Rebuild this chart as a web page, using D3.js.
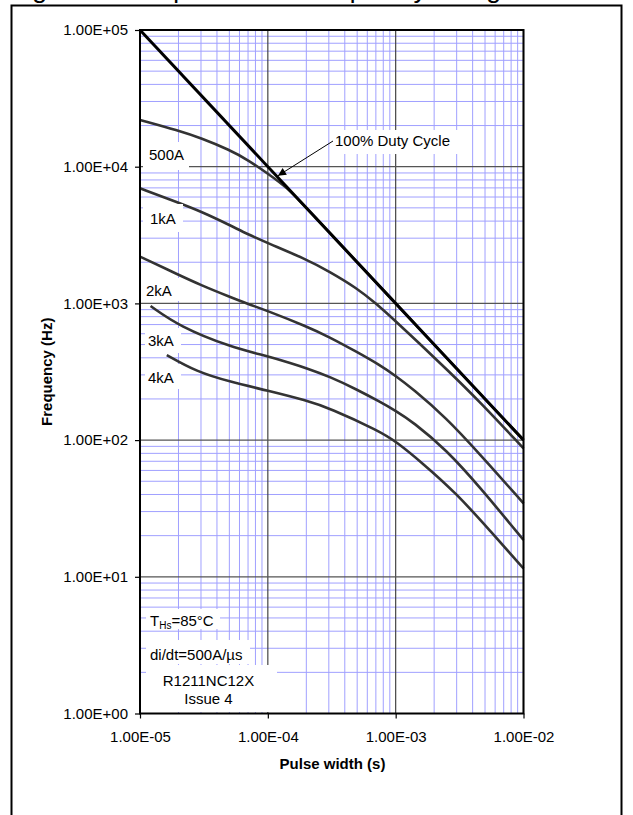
<!DOCTYPE html>
<html><head><meta charset="utf-8">
<script src="https://cdn.jsdelivr.net/npm/d3@7"></script>
<style>
body{margin:0;background:#fff;}
text{font-family:"Liberation Sans",Arial,sans-serif;fill:#000;}
</style>
</head><body>
<svg id="c" width="633" height="815"></svg>
<script>
// ---- data ----
const xTickValues = [1e-5, 1e-4, 1e-3, 1e-2];
const xTickLabels = ["1.00E-05", "1.00E-04", "1.00E-03", "1.00E-02"];
const yTickValues = [1, 10, 100, 1e3, 1e4, 1e5];
const yTickLabels = ["1.00E+00", "1.00E+01", "1.00E+02", "1.00E+03", "1.00E+04", "1.00E+05"];

const dutyT = [1e-5, 1e-2];
const dutyF = [1e5, 100];

const t500A = [1e-5, 2e-5, 3e-5, 5e-5, 7e-5, 1e-4, 1.43e-4, 2e-4, 1e-3, 1e-2];
const f500A = [22000, 18400, 16200, 13300, 11200, 8900, 6990, 5000, 1000, 100];

const t1kA = [1e-5, 2e-5, 3e-5, 5e-5, 7e-5, 1e-4, 2e-4, 3e-4, 5e-4, 7e-4, 1e-3, 1.5e-3, 2.5e-3, 4.5e-3, 1e-2];
const f1kA = [6950, 5450, 4700, 3750, 3200, 2760, 2100, 1720, 1290, 1000, 740, 520, 330, 193, 87];

const t2kA = [1e-5, 2e-5, 3e-5, 5e-5, 7e-5, 1e-4, 2e-4, 3e-4, 5e-4, 7.5e-4, 1e-3, 1.36e-3, 2.5e-3, 4.5e-3, 1e-2];
const f2kA = [2200, 1620, 1360, 1120, 990, 880, 680, 570, 440, 354, 295, 237, 145, 80, 34.5];

const t3kA = [1.21e-5, 2.05e-5, 5.05e-5, 1e-4, 1.5e-4, 2e-4, 3.05e-4, 5e-4, 7.5e-4, 1e-3, 1.36e-3, 2.49e-3, 4.53e-3, 1e-2];
const f3kA = [957, 676, 482, 410, 366, 336, 291, 234, 191, 164, 136, 85, 45.6, 18.6];

const t4kA = [1.62e-5, 2.77e-5, 5.05e-5, 1e-4, 2e-4, 3.05e-4, 7.5e-4, 1e-3, 1.63e-3, 2.98e-3, 5.42e-3, 1e-2];
const f4kA = [419, 316, 267, 230, 195, 171, 116, 98, 67.6, 40.8, 22, 11.5];

const seriesNames = ["500A", "1kA", "2kA", "3kA", "4kA"];
const seriesT = [t500A, t1kA, t2kA, t3kA, t4kA];
const seriesF = [f500A, f1kA, f2kA, f3kA, f4kA];

// ---- layout ----
const svg = d3.select("#c");
const L = 140, R = 523.5, T = 30, B = 713.5;
const x = d3.scaleLog().domain([1e-5, 1e-2]).range([L, R]);
const y = d3.scaleLog().domain([1, 1e5]).range([B, T]);

// title (cut off at top of the page)
svg.append("text").attr("x", 10).attr("y", -2).attr("font-size", 26.7)
  .text("Figure 16 - Square wave frequency ratings");

// outer frame
svg.append("rect").attr("x", 11.5).attr("y", 5.5).attr("width", 610).attr("height", 840)
  .attr("fill", "none").attr("stroke", "#000").attr("stroke-width", 2);

// grid
const minorX = [], minorY = [];
[1e-5, 1e-4, 1e-3].forEach(d => d3.range(2, 10).forEach(k => minorX.push(k * d)));
[1, 10, 100, 1e3, 1e4].forEach(d => d3.range(2, 10).forEach(k => minorY.push(k * d)));
const g = svg.append("g");
g.selectAll(".mx").data(minorX).join("line")
  .attr("x1", d => x(d)).attr("x2", d => x(d)).attr("y1", T).attr("y2", B)
  .attr("stroke", "#a0a0ff").attr("stroke-width", 1);
g.selectAll(".my").data(minorY).join("line")
  .attr("y1", d => y(d)).attr("y2", d => y(d)).attr("x1", L).attr("x2", R)
  .attr("stroke", "#a0a0ff").attr("stroke-width", 1);
g.selectAll(".Mx").data(xTickValues).join("line")
  .attr("x1", d => x(d)).attr("x2", d => x(d)).attr("y1", T).attr("y2", B)
  .attr("stroke", "#444").attr("stroke-width", 1.2);
g.selectAll(".My").data(yTickValues).join("line")
  .attr("y1", d => y(d)).attr("y2", d => y(d)).attr("x1", L).attr("x2", R)
  .attr("stroke", "#555").attr("stroke-width", 1.2);

// curves
const line = d3.line().x(d => x(d[0])).y(d => y(d[1])).curve(d3.curveBasis);
seriesT.forEach((ts, i) => {
  const pts = ts.map((t, j) => [t, seriesF[i][j]]);
  svg.append("path").attr("d", line(pts)).attr("fill", "none")
    .attr("stroke", "#333").attr("stroke-width", 2.6);
});
svg.append("path").attr("d", d3.line().x(d => x(d[0])).y(d => y(d[1]))(dutyT.map((t, j) => [t, dutyF[j]])))
  .attr("fill", "none").attr("stroke", "#000").attr("stroke-width", 3);

// plot frame
svg.append("rect").attr("x", L).attr("y", T).attr("width", R - L).attr("height", B - T)
  .attr("fill", "none").attr("stroke", "#000").attr("stroke-width", 2);

// axes
const xAxis = d3.axisBottom(x).tickValues(xTickValues).tickFormat((d, i) => xTickLabels[i]).tickSize(5).tickPadding(13);
const yAxis = d3.axisLeft(y).tickValues(yTickValues).tickFormat((d, i) => yTickLabels[i]).tickSize(5).tickPadding(7);
const gx = svg.append("g").attr("transform", `translate(0,${B})`).call(xAxis);
const gy = svg.append("g").attr("transform", `translate(${L},0)`).call(yAxis);
[gx, gy].forEach(a => {
  a.select(".domain").remove();
  a.selectAll("line").attr("stroke", "#000").attr("stroke-width", 1.2);
  a.selectAll("text").attr("font-size", 15).attr("font-family", "Liberation Sans, Arial, sans-serif").attr("fill", "#000");
});

// axis titles
svg.append("text").attr("x", 332.5).attr("y", 769).attr("text-anchor", "middle")
  .attr("font-size", 15).attr("font-weight", "bold").text("Pulse width (s)");
svg.append("text").attr("transform", `translate(52,${(T + B) / 2}) rotate(-90)`).attr("text-anchor", "middle")
  .attr("font-size", 15).attr("font-weight", "bold").text("Frequency (Hz)");

// labels with white boxes
function box(bx, by, bw, bh) {
  svg.append("rect").attr("x", bx).attr("y", by).attr("width", bw).attr("height", bh).attr("fill", "#fff");
}
function label(txt, tx, ty, anchor) {
  return svg.append("text").attr("x", tx).attr("y", ty).attr("font-size", 15)
    .attr("text-anchor", anchor || "start").text(txt);
}
const curveLabelPos = [[149, 160, 143, 142, 46, 28], [150, 223.5, 143, 204, 40, 28], [146, 295.5, 143, 278, 36, 23],
  [148, 345.5, 145, 328, 36, 25], [148, 382.5, 145, 364, 36, 25]];
seriesNames.forEach((n, i) => {
  const p = curveLabelPos[i];
  box(p[2], p[3], p[4], p[5]);
  label(n, p[0], p[1]);
});

// 100% duty cycle label + arrow
box(330, 130, 128, 24);
label("100% Duty Cycle", 335, 146);
svg.append("defs").append("marker").attr("id", "ah").attr("viewBox", "0 0 10 10")
  .attr("refX", 10).attr("refY", 5).attr("markerWidth", 11).attr("markerHeight", 8)
  .attr("markerUnits", "userSpaceOnUse").attr("orient", "auto")
  .append("path").attr("d", "M0,0 L10,5 L0,10 Z").attr("fill", "#000");
const tip = [1.2e-4, 8300];
svg.append("line").attr("x1", 333).attr("y1", 141).attr("x2", x(tip[0])).attr("y2", y(tip[1]) - 2)
  .attr("stroke", "#000").attr("stroke-width", 1).attr("marker-end", "url(#ah)");

// conditions
box(146, 609, 74, 20);
const th = svg.append("text").attr("x", 150).attr("y", 625.5).attr("font-size", 15);
th.append("tspan").text("T");
th.append("tspan").attr("font-size", 10).attr("dy", 3).text("Hs");
th.append("tspan").attr("dy", -3).text("=85°C");
box(146, 640, 104, 24);
label("di/dt=500A/µs", 150, 659.5);
box(146, 665, 131, 47);
label("R1211NC12X", 208.5, 686, "middle");
label("Issue 4", 208.5, 704, "middle");
</script>
</body></html>
